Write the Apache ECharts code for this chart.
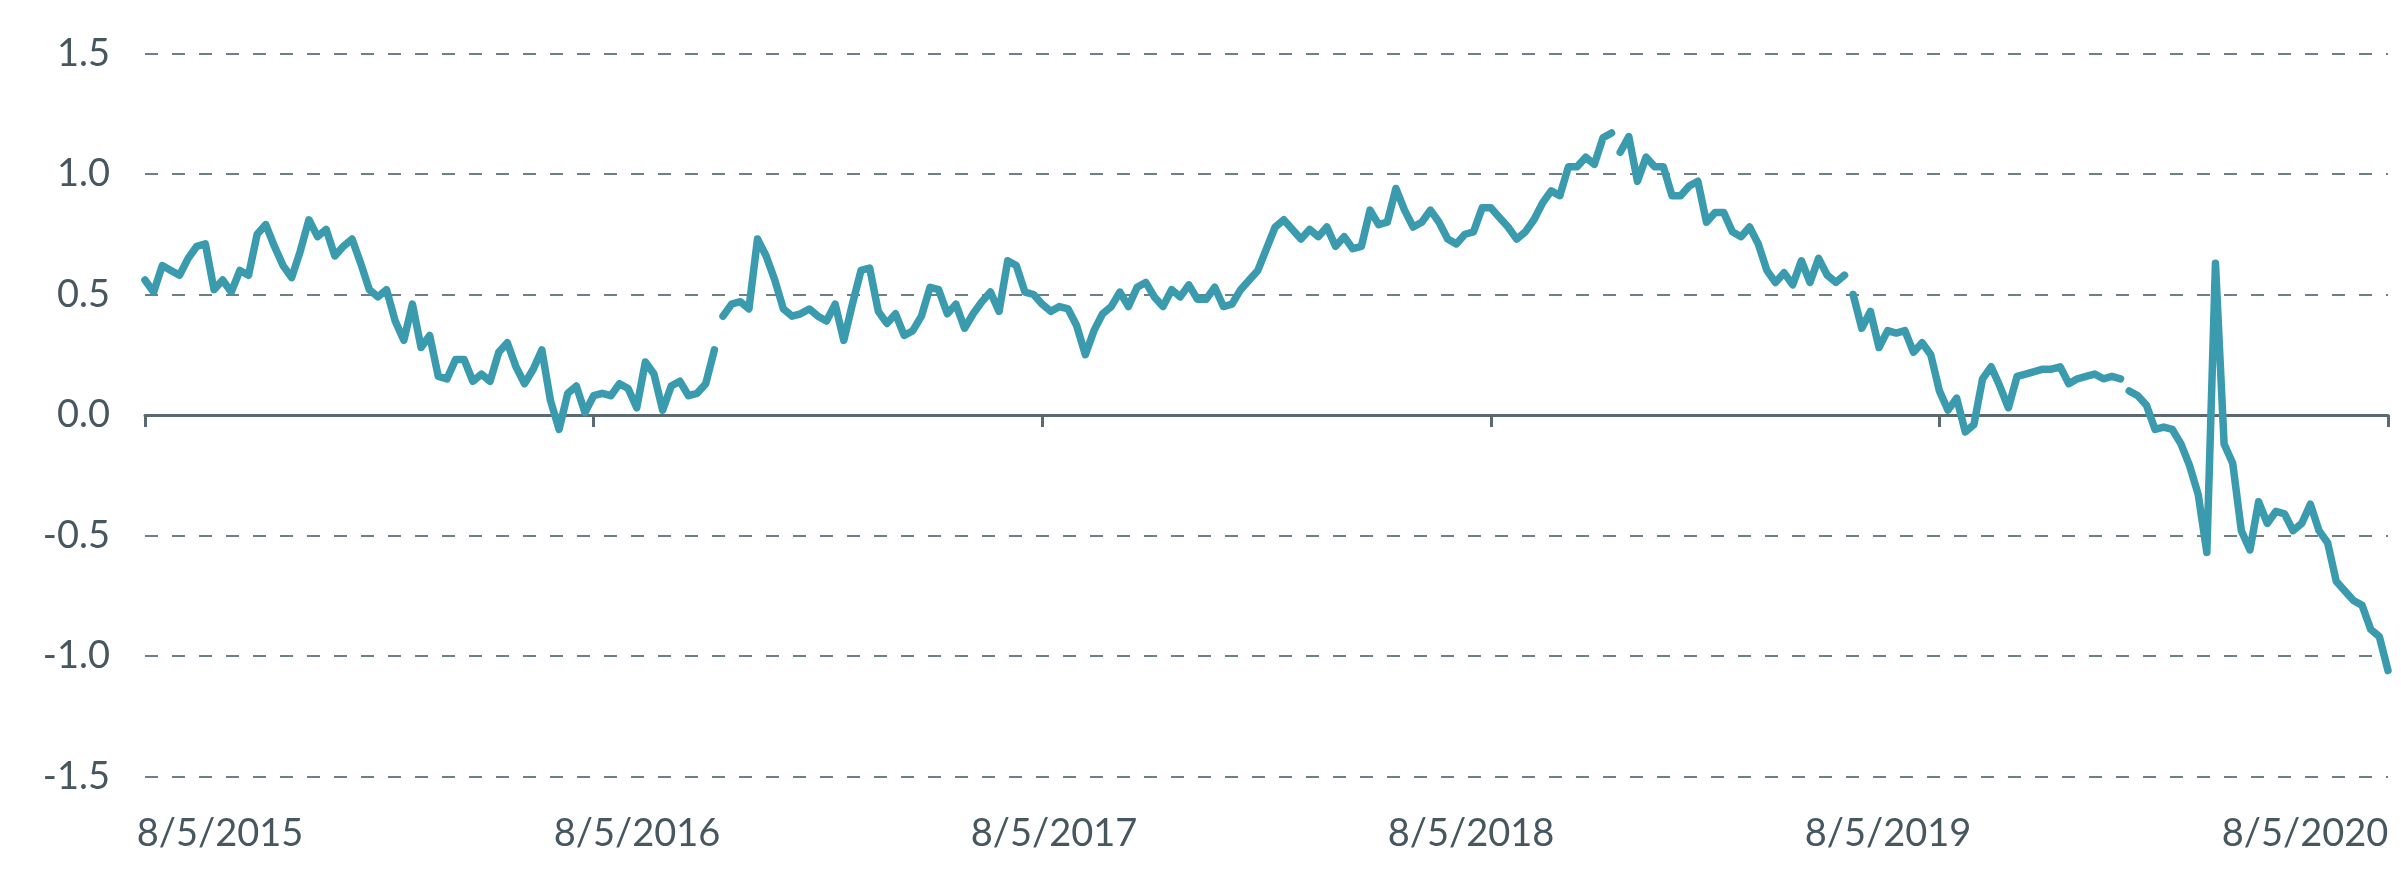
<!DOCTYPE html>
<html>
<head>
<meta charset="utf-8">
<script src="https://cdn.jsdelivr.net/npm/echarts@6/dist/echarts.min.js"></script>
<style>
  html, body { margin: 0; padding: 0; background: #ffffff; }
  #chart { width: 2401px; height: 887px; }
</style>
</head>
<body>
<div id="chart"></div>
<script>
// Weekly readings from 8/5/2015 to 8/5/2020; null marks a break in the line.
const weeklyValues = [
  0.56, 0.51, 0.62, 0.60, 0.58, 0.65, 0.70, 0.71, 0.52, 0.56,
  0.51, 0.60, 0.58, 0.75, 0.79, 0.70, 0.62, 0.57, 0.68, 0.81,
  0.74, 0.77, 0.66, 0.70, 0.73, 0.63, 0.52, 0.49, 0.52, 0.39,
  0.31, 0.46, 0.28, 0.33, 0.16, 0.15, 0.23, 0.23, 0.14, 0.17,
  0.14, 0.26, 0.30, 0.20, 0.13, 0.19, 0.27, 0.06, -0.06, 0.09,
  0.12, 0.01, 0.08, 0.09, 0.08, 0.13, 0.11, 0.03, 0.22, 0.17,
  0.02, 0.12, 0.14, 0.08, 0.09, 0.13, 0.27, null,
  0.41, 0.46, 0.47, 0.44, 0.73, 0.66, 0.56, 0.44, 0.41, 0.42,
  0.44, 0.41, 0.39, 0.46, 0.31, 0.46, 0.60, 0.61, 0.43, 0.38,
  0.42, 0.33, 0.35, 0.41, 0.53, 0.52, 0.42, 0.46, 0.36, 0.42,
  0.47, 0.51, 0.43, 0.64, 0.62, 0.51, 0.50, 0.46, 0.43, 0.45,
  0.44, 0.37, 0.25, 0.35, 0.42, 0.45, 0.51, 0.45, 0.53, 0.55,
  0.49, 0.45, 0.52, 0.49, 0.54, 0.48, 0.48, 0.53, 0.45, 0.46,
  0.52, 0.56, 0.60, 0.69, 0.78, 0.81, 0.77, 0.73, 0.77, 0.74,
  0.78, 0.70, 0.74, 0.69, 0.70, 0.85, 0.79, 0.80, 0.94, 0.85,
  0.78, 0.80, 0.85, 0.80, 0.73, 0.71, 0.75, 0.76, 0.86, 0.86,
  0.82, 0.78, 0.73, 0.76, 0.81, 0.88, 0.93, 0.91, 1.03, 1.03,
  1.07, 1.04, 1.15, 1.17, null,
  1.09, 1.155, 0.97, 1.07, 1.03, 1.03, 0.91, 0.91, 0.95, 0.97,
  0.80, 0.84, 0.84, 0.76, 0.74, 0.78, 0.71, 0.60, 0.55, 0.59,
  0.54, 0.64, 0.55, 0.65, 0.58, 0.55, 0.58, null,
  0.50, 0.36, 0.43, 0.28, 0.35, 0.34, 0.35, 0.26, 0.30, 0.25,
  0.10, 0.02, 0.07, -0.07, -0.04, 0.15, 0.20, 0.12, 0.03, 0.16,
  0.17, 0.18, 0.19, 0.19, 0.20, 0.13, 0.15, 0.16, 0.17, 0.15,
  0.16, 0.15, null,
  0.10, 0.08, 0.04, -0.06, -0.05, -0.06, -0.12, -0.21, -0.33, -0.57,
  0.63, -0.12, -0.20, -0.48, -0.56, -0.36, -0.45, -0.40, -0.41, -0.48,
  -0.45, -0.37, -0.48, -0.53, -0.69, -0.73, -0.77, -0.79, -0.89, -0.92,
  -1.06
];
const yearLabels = ['8/5/2015', '8/5/2016', '8/5/2017', '8/5/2018', '8/5/2019', '8/5/2020'];
const yMin = -1.5, yMax = 1.5, yStep = 0.5;

// Build [week, value] pairs; a null marks a break between two neighbouring weeks.
const seriesData = [];
let week = 0;
for (const v of weeklyValues) {
  if (v === null) { seriesData.push([week - 0.5, null]); }
  else { seriesData.push([week, v]); week++; }
}
const lastWeek = week - 1;
const weeksPerYear = lastWeek / (yearLabels.length - 1);

const textColor = '#475760';
const fontFamily = 'Lato, "Noto Sans", sans-serif';

const chart = echarts.init(document.getElementById('chart'), null, { renderer: 'canvas' });
chart.setOption({
  backgroundColor: '#ffffff',
  animation: false,
  grid: [
    { left: 145, right: 13, top: 53.5, bottom: 110.5, containLabel: false },
    { left: 220, right: 96, top: 53.5, bottom: 110.5, containLabel: false }
  ],
  xAxis: [
    {
      type: 'value', gridIndex: 0, min: 0, max: lastWeek, interval: weeksPerYear,
      axisLine: { show: true, onZero: true, lineStyle: { color: '#5b6a70', width: 3 } },
      axisTick: { show: true, inside: false, length: 12, lineStyle: { color: '#5b6a70', width: 3 } },
      axisLabel: { show: false },
      splitLine: { show: false }
    },
    {
      type: 'value', gridIndex: 1, min: 0, max: yearLabels.length - 1, interval: 1,
      axisLine: { show: false }, axisTick: { show: false }, splitLine: { show: false },
      axisLabel: {
        show: true, margin: 38, color: textColor, fontSize: 38, fontFamily: fontFamily,
        formatter: v => yearLabels[Math.round(v)] || ''
      }
    }
  ],
  yAxis: [
    {
      type: 'value', gridIndex: 0, min: yMin, max: yMax, interval: yStep,
      axisLine: { show: false }, axisTick: { show: false },
      axisLabel: {
        show: true, margin: 35, color: textColor, fontSize: 38, fontFamily: fontFamily,
        formatter: v => v.toFixed(1), padding: [0, 0, 12, 0]
      },
      splitLine: { show: true, lineStyle: { color: '#6f7f86', width: 2, type: [13, 14] } }
    },
    { type: 'value', gridIndex: 1, min: yMin, max: yMax, show: false }
  ],
  series: [
    {
      type: 'line', xAxisIndex: 0, yAxisIndex: 0,
      data: seriesData,
      showSymbol: false, symbol: 'none', connectNulls: false, smooth: false,
      lineStyle: { color: '#3a9aae', width: 7.5, cap: 'round', join: 'round' },
      z: 3
    }
  ]
});
</script>
</body>
</html>
